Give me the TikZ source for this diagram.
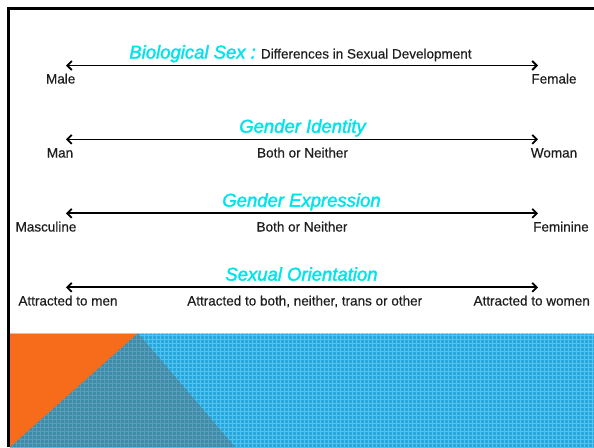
\documentclass[tikz,border=0pt]{standalone}
\usepackage{fontspec}
\setmainfont{Liberation Sans}
\newfontfamily\titlefont[FakeBold=2]{Liberation Sans}
\newfontfamily\labelfont[FakeBold=0.5]{Liberation Sans}
\usepackage{xcolor}
\usepackage{tikz}
\usetikzlibrary{arrows.meta,positioning,calc}
\definecolor{titlecyan}{RGB}{0,228,234}
\definecolor{labelgray}{RGB}{30,30,30}
\definecolor{bandblue}{RGB}{38,168,220}
\definecolor{gridblue}{RGB}{88,194,238}
\definecolor{shadegray}{RGB}{100,100,100}
\definecolor{accentorange}{RGB}{246,108,26}
\tikzset{
  scaletitle/.style={font=\titlefont\fontsize{18.5}{20}\selectfont\itshape, text=titlecyan, inner sep=0pt, anchor=base},
  endlabel/.style={font=\labelfont\fontsize{13.5}{15}\selectfont, text=labelgray, inner sep=0pt, anchor=base},
  arr/.style={{Straight Barb[length=4.5pt,width=9pt]}-{Straight Barb[length=4.5pt,width=9pt]}, line width=1.8pt},
  frameline/.style={line width=3pt, black, line join=miter}
}

\begin{document}
\begin{tikzpicture}[x=1pt,y=-1pt]
\useasboundingbox (0,0) rectangle (594,447);

% frame
\draw[frameline] (8.5,447) -- (8.5,8.8) -- (594,8.8);

% bottom band
\fill[bandblue] (10,333) rectangle (594,447);
\begin{scope}
  \clip (10,333) rectangle (594,447);
  \foreach \x in {12,16,...,594} \draw[gridblue, line width=0.9pt] (\x,333) -- (\x,447);
  \foreach \y in {335,339,...,447} \draw[gridblue, line width=0.9pt] (10,\y) -- (594,\y);
\end{scope}
\fill[accentorange] (10,333) -- (138,333) -- (10,447) -- cycle;
\fill[shadegray, opacity=0.4] (138,333) -- (235,447) -- (10,447) -- cycle;
\draw[white, opacity=0.5, line width=0.6pt] (10,333.2) -- (594,333.2);

% biological sex
\node[scaletitle] (sextitle) at (300.5,58.5) {Biological Sex :\ {\labelfont\upshape\fontsize{13.5}{15}\selectfont\color{labelgray}Differences in Sexual Development}};
\coordinate (sexL) at (66,65.5);
\coordinate (sexR) at (538,65.5);
\node[endlabel] (male) at (60.7,83.5) {Male};
\node[endlabel] (female) at (554,83.5) {Female};

% gender identity
\node[scaletitle] (idtitle) at (302.5,132.6) {Gender Identity};
\coordinate (idL) at (66,139.4);
\coordinate (idR) at (538,139.4);
\node[endlabel] (man) at (60,157.5) {Man};
\node[endlabel] (idboth) at (302.5,157.5) {Both or Neither};
\node[endlabel] (woman) at (554,157.5) {Woman};

% gender expression
\node[scaletitle] (exptitle) at (301.5,206.6) {Gender Expression};
\coordinate (expL) at (66,213.3);
\coordinate (expR) at (538,213.3);
\node[endlabel] (masculine) at (46,231.5) {Masculine};
\node[endlabel] (expboth) at (302,231.5) {Both or Neither};
\node[endlabel] (feminine) at (561,231.5) {Feminine};

% sexual orientation
\node[scaletitle] (orititle) at (301.5,280.6) {Sexual Orientation};
\coordinate (oriL) at (66,287.3);
\coordinate (oriR) at (538,287.3);
\node[endlabel] (tomen) at (68,305.5) {Attracted to men};
\node[endlabel] (toboth) at (304.7,305.5) {Attracted to both, neither, trans or other};
\node[endlabel] (towomen) at (531.7,305.5) {Attracted to women};

\draw[arr] (sexL) -- (sexR);
\draw[arr] (idL) -- (idR);
\draw[arr] (expL) -- (expR);
\draw[arr] (oriL) -- (oriR);
\end{tikzpicture}
\end{document}
